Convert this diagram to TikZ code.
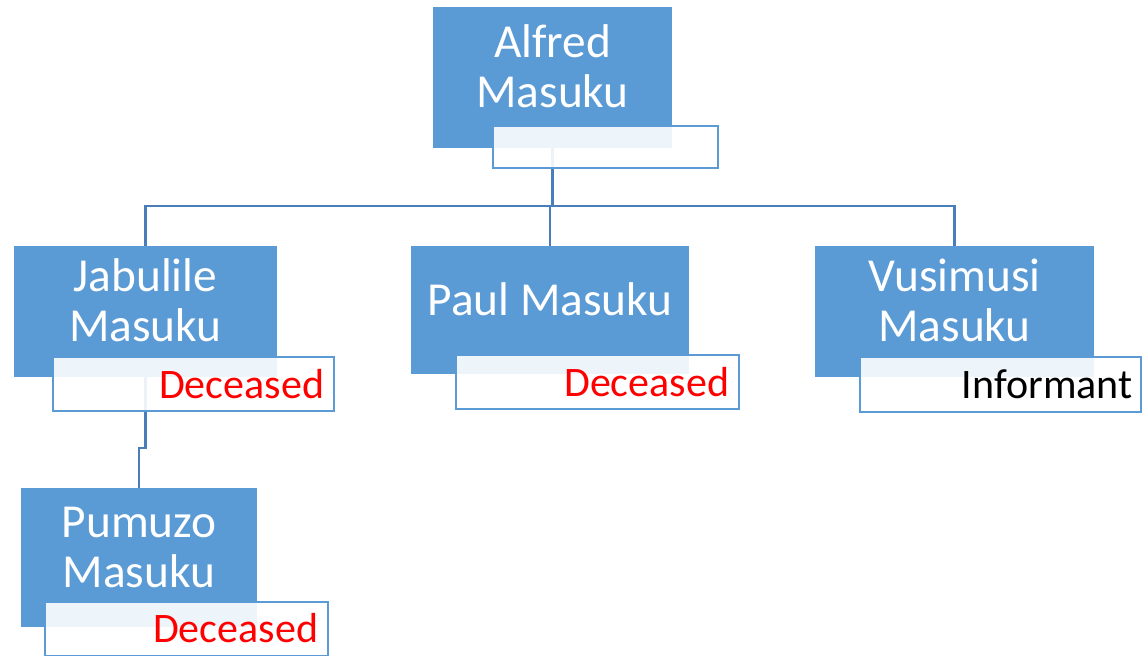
\documentclass[tikz,border=0pt]{standalone}
\usepackage{fontspec}
\setmainfont{Carlito}
\usepackage{tikz}
\definecolor{boxblue}{HTML}{5B9BD5}
\definecolor{lineblue}{HTML}{4A7EBB}
\definecolor{notered}{HTML}{FF0000}

\begin{document}
\begin{tikzpicture}[x=0.75pt, y=-0.75pt,
     person/.style={rectangle, fill=boxblue, draw=none, inner sep=0pt},
     fullname/.style={text=white, align=center, font=\fontsize{35.5}{37.5}\selectfont, inner sep=0pt},
     tagbox/.style={rectangle, fill=white, fill opacity=0.9, draw=boxblue, line width=1.5pt, inner sep=0pt},
     status/.style={font=\fontsize{31.5}{36}\selectfont, inner sep=0pt, anchor=east},
     link/.style={draw=lineblue, line width=1.8pt}]

   \useasboundingbox (0,0) rectangle (1142,656);

   % family boxes
   \node[person, minimum width=179.25pt, minimum height=105.75pt] (alfred) at (552.5,77.5) {};
   \node[person, minimum width=197.25pt, minimum height=98.25pt] (jabulile) at (145.5,311.5) {};
   \node[person, minimum width=208.5pt, minimum height=96pt] (paul) at (550,310) {};
   \node[person, minimum width=209.25pt, minimum height=98.25pt] (vusimusi) at (954.5,311.5) {};
   \node[person, minimum width=177pt, minimum height=104.25pt] (pumuzo) at (139,557.5) {};

   \coordinate (fork) at (552.5,206);
   \coordinate (jog) at (145.5,448);

   \draw[link] (alfred.south) -- (fork);
   \draw[link] (jabulile.north) |- (fork) -| (vusimusi.north);
   \draw[link] (paul.north |- fork) -- (paul.north);
   \draw[link] (jabulile.south) -- (jog) -| (pumuzo.north);

   % status boxes
   \node[tagbox, minimum width=168.75pt, minimum height=31.5pt] (alfredtag) at (605.5,147) {};
   \node[tagbox, minimum width=210.75pt, minimum height=40.5pt] (jabuliletag) at (193.5,384) {};
   \node[tagbox, minimum width=212.25pt, minimum height=40.5pt] (paultag) at (597.5,382) {};
   \node[tagbox, minimum width=210.75pt, minimum height=41.25pt] (vusimusitag) at (1000.5,384.5) {};
   \node[tagbox, minimum width=212.25pt, minimum height=40.5pt] (pumuzotag) at (186.5,628.5) {};

   \node[fullname] (alfredname) at (552.5,66) {Alfred\\Masuku};
   \node[fullname] (jabulilename) at (145.5,300) {Jabulile\\Masuku};
   \node[fullname] (paulname) at (550,299) {Paul Masuku};
   \node[fullname] (vusimusiname) at (954.5,300) {Vusimusi\\Masuku};
   \node[fullname] (pumuzoname) at (139,547) {Pumuzo\\Masuku};

   \node[status, text=notered] (jabulilenote) at ([xshift=-8pt]jabuliletag.east) {Deceased};
   \node[status, text=notered] (paulnote) at ([xshift=-8pt]paultag.east) {Deceased};
   \node[status] (vusimusinote) at ([xshift=-7pt]vusimusitag.east) {Informant};
   \node[status, text=notered] (pumuzonote) at ([xshift=-8pt]pumuzotag.east) {Deceased};
\end{tikzpicture}
\end{document}
